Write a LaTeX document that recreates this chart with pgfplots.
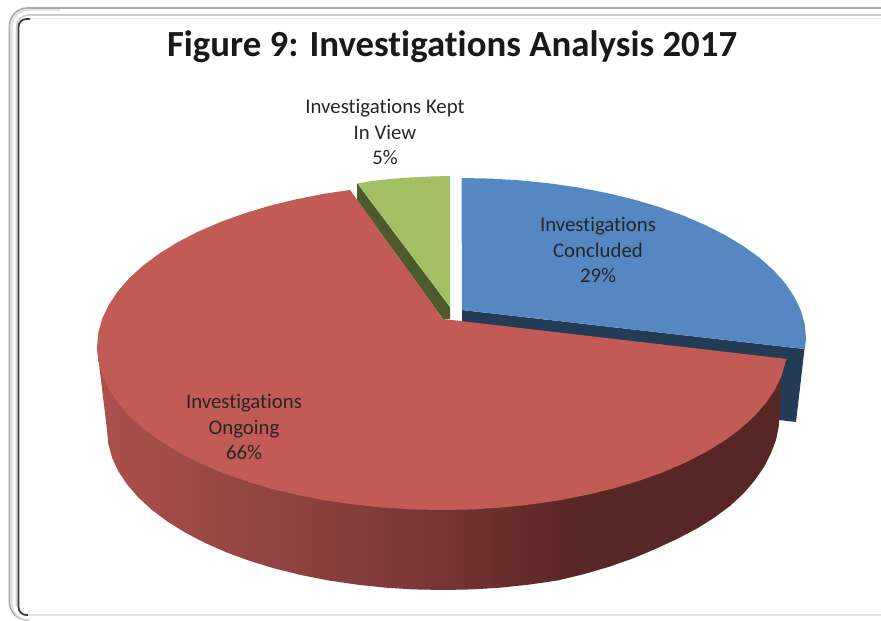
\documentclass[border=0pt]{standalone}
\usepackage{fontspec}
\setmainfont{Carlito}[Ligatures=NoCommon]
\usepackage{pgfplots}
\pgfplotsset{compat=1.18}

\definecolor{redtop}{RGB}{194,90,86}
\definecolor{bluetop}{RGB}{85,135,194}
\definecolor{bluewall}{RGB}{36,59,86}
\definecolor{greentop}{RGB}{162,191,99}
\definecolor{greenwall}{RGB}{77,90,44}
\definecolor{wallA}{RGB}{172,80,76}
\definecolor{wallB}{RGB}{141,66,63}
\definecolor{wallC}{RGB}{118,53,51}
\definecolor{wallD}{RGB}{88,38,36}
\definecolor{frameA}{RGB}{168,168,168}
\definecolor{frameB}{RGB}{215,215,215}
\definecolor{frameC}{RGB}{205,205,205}
\definecolor{frameD}{RGB}{235,235,235}
\definecolor{frameE}{RGB}{60,60,60}
\definecolor{frameF}{RGB}{228,228,228}

% Wall of the large slice: lit on the left, darkest towards the front right
\pgfdeclarehorizontalshading{redwall}{100bp}{
  color(0bp)=(wallA);
  color(25bp)=(wallA);
  color(39.7bp)=(wallB);
  color(50bp)=(wallC);
  color(60bp)=(wallD);
  color(100bp)=(wallD)}

\begin{document}
\begin{tikzpicture}
\path[use as bounding box] (0,0) rectangle (881pt,621pt);
\begin{axis}[
  at={(0,0)}, anchor=south west,
  scale only axis, width=881pt, height=621pt,
  xmin=0, xmax=881, ymin=0, ymax=621, y dir=reverse,
  hide axis, no markers]

% Frame around the chart area
\draw[frameA, line width=1.6pt, rounded corners=18pt]
  (axis cs:26,620) -- (axis cs:9.5,620) -- (axis cs:9.5,8) -- (axis cs:881,8);
\draw[frameB, line width=1.4pt, rounded corners=16pt]
  (axis cs:30,620) -- (axis cs:12,620) -- (axis cs:12,10) -- (axis cs:60,10);
\draw[frameC, line width=1.6pt, rounded corners=12pt]
  (axis cs:16.5,606) -- (axis cs:16.5,15) -- (axis cs:881,15);
\draw[frameD, line width=1pt]
  (axis cs:26,18) -- (axis cs:881,18);
\draw[frameE, line width=1.8pt, rounded corners=8pt]
  (axis cs:30,19) -- (axis cs:18.5,19) -- (axis cs:18.5,615) -- (axis cs:30,615);
\draw[frameF, line width=1.5pt]
  (axis cs:28,615) -- (axis cs:881,615);

% Concluded: wall, then top face
\addplot[draw=none, fill=bluewall] coordinates {
  (462,310) (804.5,349) (796,422) (770,419) (462,380)} -- cycle;
\addplot[draw=none, fill=bluetop] coordinates {
  (462,310) (461.5,178) (491.1,178.6) (520.9,180.4) (550.3,183.5) (579,187.6)
  (606.8,193) (633.5,199.4) (658.9,206.9) (682.8,215.4) (705,224.9) (725.3,235.2)
  (743.6,246.2) (759.8,258) (773.7,270.4) (785.2,283.3) (794.2,296.6) (800.8,310.2)
  (804.7,324) (806,338) (805,349)} -- cycle;

% Kept in view: wall, then top face
\addplot[draw=none, fill=greenwall] coordinates {
  (357,183) (450,307) (450,319) (443,319) (357,200)} -- cycle;
\addplot[draw=none, fill=greentop] coordinates {
  (450,307) (450,176) (430,176.5) (410,177.5) (390,179) (372,181) (357.5,183.5)} -- cycle;

% Ongoing: curved wall, then top face
\addplot[draw=none, shade, shading=redwall] coordinates {
  (787,359) (785.7,361.2) (781.8,375.3) (779,425) (776,440) (771,453) (764,467) (755,480)
  (744,493) (730,506) (714.5,517.5) (697,528.5) (678,538.5) (656.5,548.5) (634,558)
  (610,566.5) (584.5,574) (557.9,580.4) (530,584.5) (501.3,587.6) (472.3,589.4)
  (443,590) (413.7,589.4) (384.7,587.6) (356,584.5) (328.1,580.4) (301,575) (275,568.6)
  (250.3,561.1) (227,552.6) (205.4,543.1) (185.6,532.8) (167.8,521.8) (152,510)
  (138.5,497.6) (127.3,484.7) (118.4,471.4) (112.1,457.8) (108.3,444) (107,430)
  (97,347) (443,400)} -- cycle;
\addplot[draw=none, fill=redtop] coordinates {
  (443,319) (787,359) (785.7,361.2) (781.8,375.3) (775.2,389.2) (766.2,402.7)
  (754.7,415.9) (740.8,428.5) (724.6,440.5) (706.3,451.8) (686,462.3) (663.8,471.9)
  (639.9,480.5) (614.5,488.2) (587.8,494.7) (560,500.2) (531.3,504.4) (501.9,507.5)
  (472.1,509.4) (442,510) (411.9,509.4) (382.1,507.5) (352.7,504.4) (324,500.2)
  (296.2,494.7) (269.5,488.2) (244.1,480.5) (220.2,471.9) (198,462.3) (177.7,451.8)
  (159.4,440.5) (143.2,428.5) (129.3,415.9) (117.8,402.7) (108.8,389.2) (102.2,375.3)
  (98.3,361.2) (97,347) (98.3,332.8) (102.2,318.7) (108.8,304.8) (117.8,291.3)
  (129.3,278.1) (143.2,265.5) (159.4,253.5) (177.7,242.2) (198,231.7) (220.2,222.1)
  (244.1,213.5) (269.5,205.8) (296.2,199.3) (324,193.8) (350,190)} -- cycle;

% Title and slice labels
\node[font=\bfseries\fontsize{36.8}{40}\selectfont, text=black!90]
  at (axis cs:452,47) {Figure 9: Investigations Analysis 2017};
\node[align=center, font=\fontsize{20.8}{25.5}\selectfont, text=black!85]
  at (axis cs:385,132) {Investigations Kept\\In View\\5\%};
\node[align=center, font=\fontsize{20.8}{25.5}\selectfont, text=black!85]
  at (axis cs:598,250) {Investigations\\Concluded\\29\%};
\node[align=center, font=\fontsize{20.8}{25.5}\selectfont, text=black!85]
  at (axis cs:244,427) {Investigations\\Ongoing\\66\%};
\end{axis}
\end{tikzpicture}
\end{document}
